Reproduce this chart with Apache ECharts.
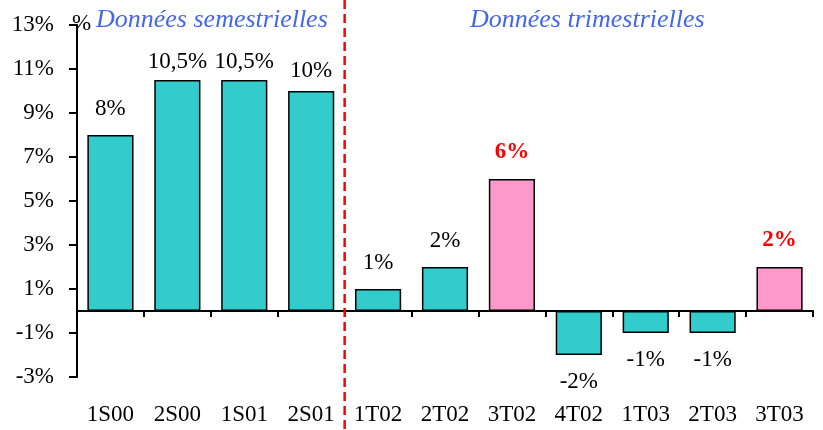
<!DOCTYPE html>
<html><head><meta charset="utf-8">
<script src="https://cdn.jsdelivr.net/npm/echarts@6/dist/echarts.min.js"></script>
<style>html,body{margin:0;padding:0;background:#fff}#c{width:823px;height:430px}</style>
</head><body><div id="c"></div>
<script>
const categories = ['1S00','2S00','1S01','2S01','1T02','2T02','3T02','4T02','1T03','2T03','3T03'];
const values = [8, 10.5, 10.5, 10, 1, 2, 6, -2, -1, -1, 2];
const labels = ['8%','10,5%','10,5%','10%','1%','2%','6%','-2%','-1%','-1%','2%'];
const highlighted = [false,false,false,false,false,false,true,false,false,false,true];
const yTickLabels = ['-3%','-1%','1%','3%','5%','7%','9%','11%','13%'];
const yMin = -3, yMax = 13;

const FONT = '"Liberation Serif", "Times New Roman", serif';
const chart = echarts.init(document.getElementById('c'), null, {renderer:'canvas'});

const data = values.map((v,i)=>({
  value: v,
  itemStyle: {color: highlighted[i] ? '#FF99CC' : '#33CCCC'},
  label: {
    formatter: labels[i],
    position: v >= 0 ? 'top' : 'bottom',
    distance: v >= 10.5 ? 7 : (v >= 10 ? 9 : 15),
    color: highlighted[i] ? '#FF0000' : '#000',
    fontWeight: highlighted[i] ? 'bold' : 'normal'
  }
}));

chart.setOption({
  animation: false,
  grid: {left: 77, right: 10, top: 25, bottom: 53, containLabel: false},
  xAxis: [
    {type:'category', data: categories, axisLine:{onZero:true, onZeroAxisIndex:0, lineStyle:{color:'#000', width:2}},
     axisTick:{show:true, length:6, inside:false, lineStyle:{color:'#000', width:2}},
     axisLabel:{show:false}, splitLine:{show:false}},
    {type:'category', data: categories, position:'bottom', axisLine:{show:false, onZero:false}, axisTick:{show:false},
     axisLabel:{show:true, color:'#000', fontFamily:FONT, fontSize:23, margin:26}}
  ],
  yAxis: [
    {type:'value', min:yMin, max:yMax, show:false, splitLine:{show:false}},
    {type:'value', min:0, max:yMax-yMin, interval:2, position:'left',
     axisLine:{show:true, lineStyle:{color:'#000', width:2}},
     axisTick:{show:true, length:8, lineStyle:{color:'#000', width:2}},
     axisLabel:{color:'#000', fontFamily:FONT, fontSize:23, margin:23, formatter:(v)=>yTickLabels[Math.round(v/2)]},
     splitLine:{show:false}}
  ],
  series: [{
    type:'bar', xAxisIndex:0, yAxisIndex:0, data: data, barWidth: '69%',
    itemStyle:{borderColor:'#000', borderWidth:1.5},
    label:{show:true, fontFamily:FONT, fontSize:23}
  }]
});

const x3 = chart.convertToPixel({xAxisIndex:0}, categories[3]);
const x4 = chart.convertToPixel({xAxisIndex:0}, categories[4]);
const xs = (x3 + x4) / 2;
chart.setOption({
  graphic: [
    {type:'line', shape:{x1:xs, y1:0, x2:xs, y2:430}, style:{stroke:'#FF0000', lineWidth:2.5, lineDash:[9,5]}, z:100},
    {type:'text', left:72, top:12, style:{text:'%', fill:'#000', font:'23px ' + FONT}},
    {type:'text', left:96, top:7, style:{text:'Données semestrielles', fill:'#4466EE', font:'italic 26px ' + FONT}},
    {type:'text', left:470, top:7, style:{text:'Données trimestrielles', fill:'#4466EE', font:'italic 26px ' + FONT}}
  ]
});
</script></body></html>
